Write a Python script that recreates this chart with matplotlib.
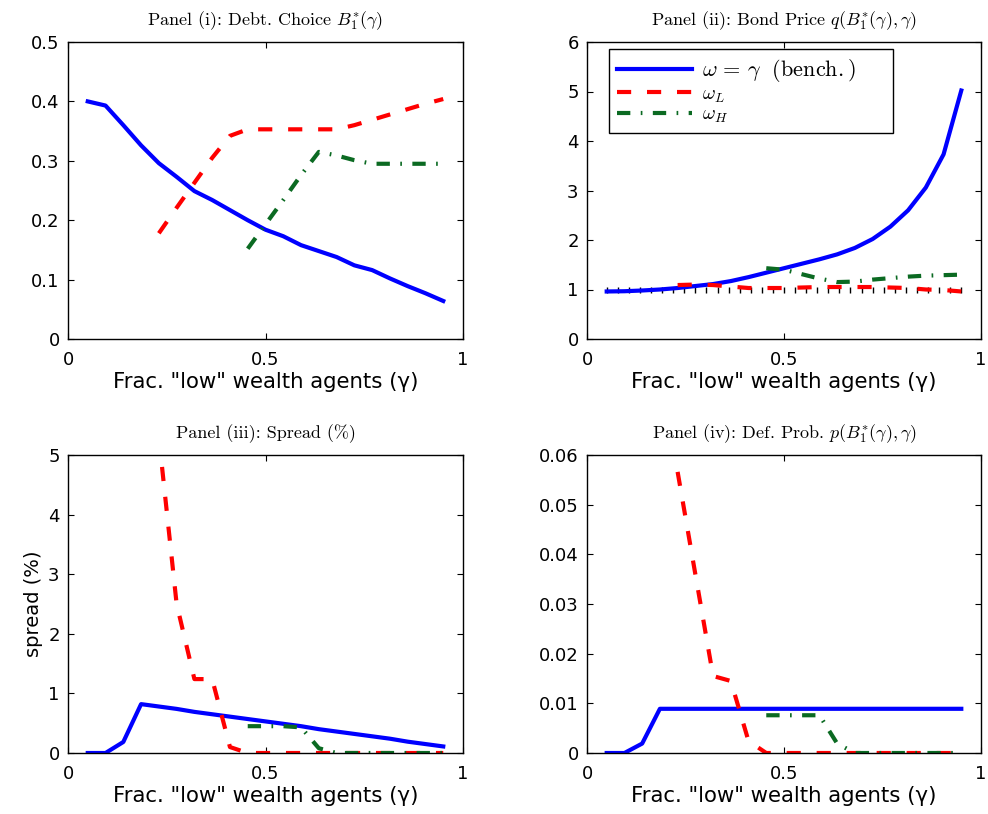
import numpy as np
import matplotlib
matplotlib.use("Agg")
import matplotlib.pyplot as plt

plt.rcParams['mathtext.fontset'] = 'cm'
plt.rcParams['font.family'] = ['DejaVu Sans']

nan = np.nan

# fraction of "low" wealth agents
gamma = [0.05, 0.095, 0.14, 0.185, 0.23, 0.275, 0.32, 0.365, 0.41, 0.455, 0.5,
         0.545, 0.59, 0.635, 0.68, 0.725, 0.77, 0.815, 0.86, 0.905, 0.95]

# Panel (i): debt choice
debt_bench = [0.400, 0.393, 0.360, 0.326, 0.296, 0.273, 0.249, 0.234, 0.217, 0.200, 0.184,
              0.173, 0.158, 0.148, 0.138, 0.124, 0.116, 0.102, 0.089, 0.077, 0.064]
debt_L = [nan, nan, nan, nan, 0.178, 0.221, 0.263, 0.305, 0.342, 0.353, 0.353,
          0.353, 0.353, 0.353, 0.353, 0.360, 0.369, 0.378, 0.387, 0.396, 0.404]
debt_H = [nan, nan, nan, nan, nan, nan, nan, nan, nan, 0.152, 0.193,
          0.234, 0.276, 0.315, 0.309, 0.301, 0.295, 0.295, 0.295, 0.295, 0.295]

# Panel (ii): bond price
price_bench = [0.96, 0.965, 0.98, 1.00, 1.03, 1.07, 1.11, 1.17, 1.25, 1.34, 1.43,
               1.52, 1.61, 1.71, 1.84, 2.02, 2.27, 2.60, 3.06, 3.73, 5.02]
price_L = [nan, nan, nan, nan, 1.09, 1.10, 1.09, 1.06, 1.03, 1.03, 1.03,
           1.04, 1.05, 1.05, 1.05, 1.05, 1.04, 1.03, 1.00, 0.99, 0.96]
price_H = [nan, nan, nan, nan, nan, nan, nan, nan, nan, 1.43, 1.40,
           1.31, 1.22, 1.15, 1.16, 1.20, 1.23, 1.26, 1.28, 1.29, 1.30]
price_riskfree = 1.0

# Panel (iii): spread (%)
spread_bench = [0.0, 0.0, 0.185, 0.82, 0.78, 0.74, 0.69, 0.65, 0.61, 0.57, 0.53,
                0.49, 0.45, 0.40, 0.36, 0.32, 0.28, 0.24, 0.19, 0.15, 0.11]
spread_L = [nan, nan, nan, nan, 5.3, 2.5, 1.24, 1.24, 0.10, 0.0, 0.0,
            0.0, 0.0, 0.0, 0.0, 0.0, 0.0, 0.0, 0.0, 0.0, 0.0]
spread_H = [nan, nan, nan, nan, nan, nan, nan, nan, nan, 0.45, 0.45,
            0.45, 0.43, 0.08, 0.0, 0.0, 0.0, 0.0, 0.0, 0.0, 0.0]

# Panel (iv): default probability
prob_bench = [0.0, 0.0, 0.0019, 0.0089, 0.0089, 0.0089, 0.0089, 0.0089, 0.0089, 0.0089, 0.0089,
              0.0089, 0.0089, 0.0089, 0.0089, 0.0089, 0.0089, 0.0089, 0.0089, 0.0089, 0.0089]
prob_L = [nan, nan, nan, nan, 0.0566, 0.036, 0.0155, 0.0145, 0.0024, 0.0, 0.0,
          0.0, 0.0, 0.0, 0.0, 0.0, 0.0, 0.0, 0.0, 0.0, 0.0]
prob_H = [nan, nan, nan, nan, nan, nan, nan, nan, nan, 0.0076, 0.0076,
          0.0076, 0.0076, 0.0019, 0.0, 0.0, 0.0, 0.0, 0.0, 0.0, 0.0]

titles = [r"Panel (i): Debt. Choice $B_1^{*}(\gamma)$",
          r"Panel (ii): Bond Price $q(B_1^{*}(\gamma),\gamma)$",
          r"Panel (iii): Spread (%)",
          r"Panel (iv): Def. Prob. $p(B_1^{*}(\gamma),\gamma)$"]
xlabel = 'Frac. "low" wealth agents (γ)'
legend_labels = [r"$\omega\,=\,\gamma\ \ \mathrm{(bench.)}$", r"$\omega_L$", r"$\omega_H$"]

ylims = [(0, 0.5), (0, 6), (0, 5), (0, 0.06)]
yticks = [[0, 0.1, 0.2, 0.3, 0.4, 0.5], [0, 1, 2, 3, 4, 5, 6],
          [0, 1, 2, 3, 4, 5], [0, 0.01, 0.02, 0.03, 0.04, 0.05, 0.06]]
yticklabels = [["0", "0.1", "0.2", "0.3", "0.4", "0.5"], ["0", "1", "2", "3", "4", "5", "6"],
               ["0", "1", "2", "3", "4", "5"], ["0", "0.01", "0.02", "0.03", "0.04", "0.05", "0.06"]]
xticks = [0, 0.5, 1]
xticklabels = ["0", "0.5", "1"]

series = [(debt_bench, debt_L, debt_H), (price_bench, price_L, price_H),
          (spread_bench, spread_L, spread_H), (prob_bench, prob_L, prob_H)]

BLUE = (0, 0, 1)
RED = (1, 0, 0)
GREEN = '#0b6a22'

W, H = 988, 814
fig = plt.figure(figsize=(W / 100, H / 100), dpi=100)
positions = [(68, 42, 463, 339), (587, 42, 981, 339), (68, 455, 463, 753), (587, 455, 981, 753)]

for i, (l, t, r, b) in enumerate(positions):
    ax = fig.add_axes([l / W, 1 - b / H, (r - l) / W, (b - t) / H])
    bench, lo, hi = series[i]
    lb, = ax.plot(gamma, bench, color=BLUE, lw=3, solid_joinstyle='round')
    ll, = ax.plot(gamma, lo, color=RED, lw=3, dashes=(3.4, 3.8))
    lh, = ax.plot(gamma, hi, color=GREEN, lw=3, dashes=(3.2, 2.5, 0.4, 2.5))
    if i == 1:
        ref_x = np.linspace(gamma[0], gamma[-1], 33)
        ax.plot(ref_x, np.full_like(ref_x, price_riskfree), ls='none', marker='|',
                ms=4, mew=1.0, color='k', zorder=1.5)
        leg = ax.legend([lb, ll, lh], legend_labels, loc='upper left',
                        bbox_to_anchor=(22 / 394, 1 - 10 / 297, 284 / 394, 0.01),
                        mode='expand', fontsize=14, handlelength=3.85,
                        handletextpad=0.5, labelspacing=0.0, borderpad=0.42,
                        borderaxespad=0.0,
                        fancybox=False, framealpha=1, edgecolor='k')
        leg.get_frame().set_linewidth(1.0)
        leg.get_texts()[0].set_fontsize(16)
    ax.set_xlim(0, 1)
    ax.set_ylim(*ylims[i])
    ax.set_xticks(xticks)
    ax.set_xticklabels(xticklabels)
    ax.set_yticks(yticks[i])
    ax.set_yticklabels(yticklabels[i])
    ax.tick_params(direction='in', length=4, width=0.8, top=True, right=True,
                   labelsize=13, pad=6)
    ax.tick_params(axis='x', pad=8.5)
    for s in ax.spines.values():
        s.set_linewidth(1.0)
    ax.set_title(titles[i], fontsize=13, pad=12, family=['cmr10', 'DejaVu Serif'])
    ax.set_xlabel(xlabel, fontsize=15.3, labelpad=2)
    if i == 2:
        ax.set_ylabel("spread (%)", fontsize=14, labelpad=4)

fig.savefig("out.png", dpi=100)
